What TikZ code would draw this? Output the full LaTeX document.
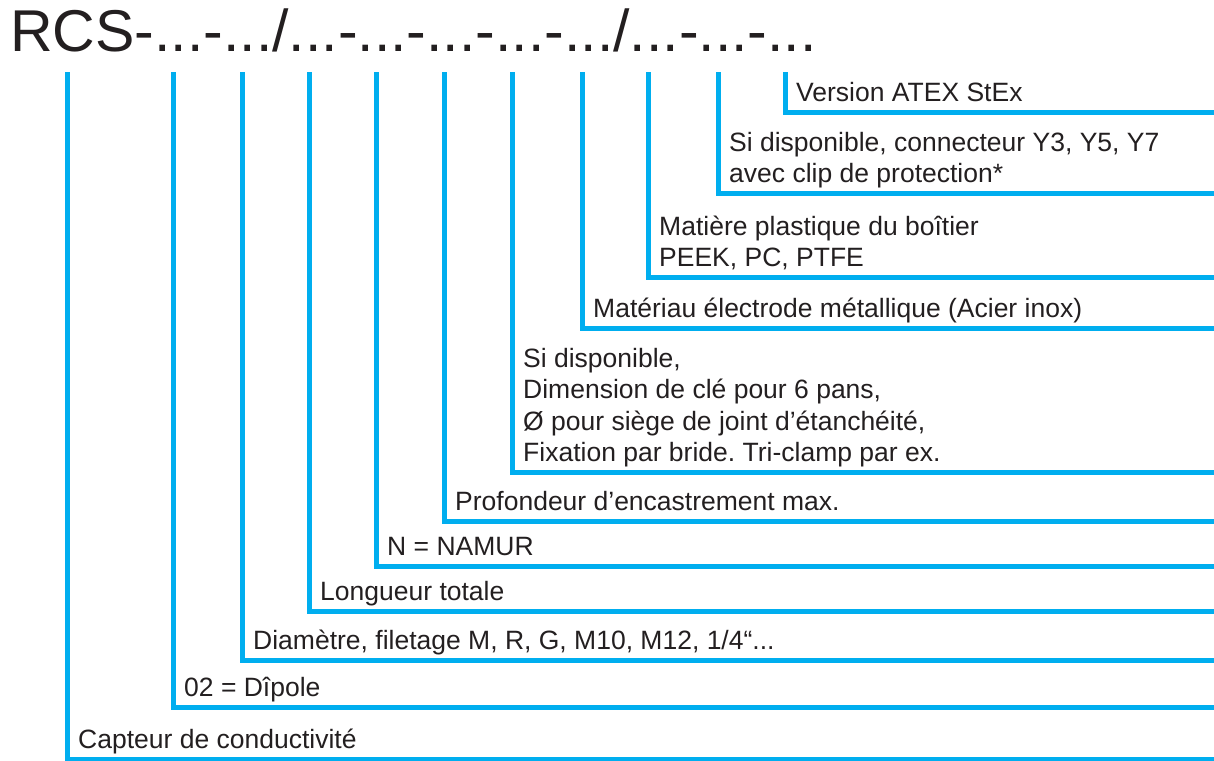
\documentclass[tikz,border=0pt]{standalone}
\usepackage{fontspec}
\setmainfont{Liberation Sans}
\frenchspacing
\definecolor{codeblue}{RGB}{0,174,239}
\definecolor{ink}{RGB}{35,31,32}
\begin{document}
\begin{tikzpicture}[x=1pt,y=-1pt,
  lead/.style={draw=codeblue, line width=5pt, line join=miter},
  keytext/.style={anchor=base west, inner sep=0pt, text=ink,
    font=\fontsize{26.5}{31.5}\selectfont, align=left},
  codetext/.style={anchor=base west, inner sep=0pt, text=ink,
    font=\fontsize{59}{59}\selectfont}
]
\useasboundingbox (0,0) rectangle (1214,760);

% type code
\node[codetext] (code) at (10,51.5) {RCS-...-.../...-...-...-...-.../...-...-...};

% leader lines: top points and right ends
\foreach \i/\x/\y in {1/67/759, 2/173/707, 3/242/660, 4/309/611,
                      5/376/566, 6/444/521, 7/512/472, 8/582/328,
                      9/648/277, 10/718/193, 11/785/112} {
  \coordinate (top\i) at (\x,72);
  \coordinate (end\i) at (1222,\y);
  \draw[lead] (top\i) |- (end\i);
}

% descriptions (anchored on the baseline of their last line)
\node[keytext] (k1) at (78,748.5) {Capteur de conductivité};
\node[keytext] (k2) at (184,696.5) {02 = Dîpole};
\node[keytext] (k3) at (253,649.5) {Diamètre, filetage M, R, G, M10, M12, 1/4“...};
\node[keytext] (k4) at (320,600.5) {Longueur totale};
\node[keytext] (k5) at (387,555.5) {N = NAMUR};
\node[keytext] (k6) at (455,510.5) {Profondeur d’encastrement max.};
\node[keytext] (k7) at (523,461.5) {Si disponible,\\Dimension de clé pour 6 pans,\\Ø pour siège de joint d’étanchéité,\\Fixation par bride. Tri-clamp par ex.};
\node[keytext] (k8) at (593,317.5) {Matériau électrode métallique (Acier inox)};
\node[keytext] (k9) at (659,266.5) {Matière plastique du boîtier\\PEEK, PC, PTFE};
\node[keytext] (k10) at (729,182.5) {Si disponible, connecteur Y3, Y5, Y7\\avec clip de protection*};
\node[keytext] (k11) at (796,101.5) {Version ATEX StEx};
\end{tikzpicture}
\end{document}
